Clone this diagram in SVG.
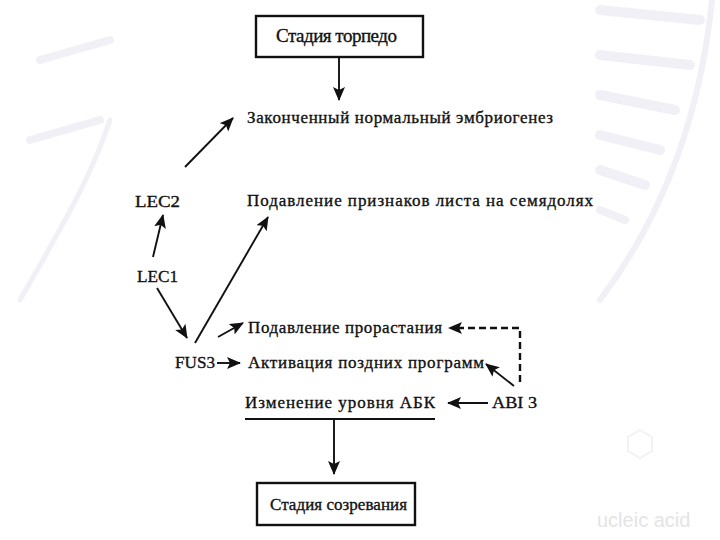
<svg xmlns="http://www.w3.org/2000/svg" width="720" height="540" viewBox="0 0 720 540">
<style>
  .t{font-family:"Liberation Serif","Times New Roman",serif;fill:#111;stroke:#111;stroke-width:0.35;}
  .lbl{font-size:17px;}
  .box{fill:#fff;stroke:#111;stroke-width:2.4;}
  .c{stroke:#111;stroke-width:1.9;fill:none;}
  .d{stroke:#111;stroke-width:2.4;fill:none;stroke-dasharray:7 4;}
  .bg{fill:none;stroke:#f0f0f6;stroke-linecap:round;}
</style>
<defs>
  <marker id="ah" markerUnits="userSpaceOnUse" markerWidth="16" markerHeight="14" refX="13" refY="6" orient="auto">
    <path d="M0,0 L14,6 L0,12 L3,6 Z" fill="#111"/>
  </marker>
</defs>
<rect x="0" y="0" width="720" height="540" fill="#fff"/>
<g id="background">
  <path class="bg" d="M712,0 C700,120 660,220 600,300" stroke-width="6"/>
  <path class="bg" d="M700,20 L600,10" stroke-width="10"/>
  <path class="bg" d="M690,65 L600,55" stroke-width="10"/>
  <path class="bg" d="M675,110 L600,95" stroke-width="10"/>
  <path class="bg" d="M660,150 L600,135" stroke-width="10"/>
  <path class="bg" d="M645,185 L600,170" stroke-width="10"/>
  <path class="bg" d="M625,220 L600,210" stroke-width="8"/>
  <path class="bg" d="M20,300 C60,230 90,180 110,120" stroke-width="5" stroke="#f7f7f8"/>
  <path class="bg" d="M40,60 L110,40" stroke-width="8" stroke="#f8f8f9"/>
  <path class="bg" d="M30,140 L100,120" stroke-width="8" stroke="#f8f8f9"/>
  <polygon points="640,430 652,437 652,451 640,458 628,451 628,437" fill="none" stroke="#f2f2f2" stroke-width="2"/>
  <text x="597" y="527" font-family="Liberation Sans,Arial,sans-serif" font-size="20" fill="#e4e4e4">ucleic acid</text>
</g>
<g id="connectors">
  <line class="c" x1="339" y1="57" x2="339" y2="100" marker-end="url(#ah)"/>
  <line class="c" x1="185" y1="167" x2="233" y2="118" marker-end="url(#ah)"/>
  <line class="c" x1="153" y1="257" x2="163" y2="215" marker-end="url(#ah)"/>
  <line class="c" x1="157" y1="288" x2="187" y2="338" marker-end="url(#ah)"/>
  <line class="c" x1="195" y1="343" x2="268" y2="217" marker-end="url(#ah)"/>
  <line class="c" x1="218" y1="337" x2="243" y2="323" marker-end="url(#ah)"/>
  <line class="c" x1="217" y1="363" x2="240" y2="363" marker-end="url(#ah)"/>
  <path class="d" d="M520,382 L520,328 L452,328"/>
  <path d="M448,328 L462,322 L459,328 L462,334 Z" fill="#111"/>
  <line class="c" x1="514" y1="386" x2="486" y2="364" marker-end="url(#ah)"/>
  <line class="c" x1="488" y1="403" x2="448" y2="403" marker-end="url(#ah)"/>
  <line class="c" x1="334" y1="419" x2="334" y2="474" marker-end="url(#ah)"/>
</g>
<g id="n-torpedo">
  <rect class="box" x="256" y="16" width="167" height="41"/>
  <text class="t" x="276" y="42" font-size="19" textLength="121" lengthAdjust="spacing">Стадия торпедо</text>
</g>
<g id="n-embryo">
  <text class="t lbl" x="247" y="123" textLength="306" lengthAdjust="spacing">Законченный нормальный эмбриогенез</text>
</g>
<g id="n-leaf">
  <text class="t lbl" x="247" y="206" textLength="346" lengthAdjust="spacing">Подавление признаков листа на семядолях</text>
</g>
<g id="n-lec2">
  <text class="t lbl" x="135" y="207" textLength="45" lengthAdjust="spacingAndGlyphs">LEC2</text>
</g>
<g id="n-lec1">
  <text class="t lbl" x="137" y="282" textLength="41" lengthAdjust="spacingAndGlyphs">LEC1</text>
</g>
<g id="n-fus3">
  <text class="t lbl" x="175" y="368" textLength="40" lengthAdjust="spacingAndGlyphs">FUS3</text>
</g>
<g id="n-germ">
  <text class="t lbl" x="248" y="333" textLength="194" lengthAdjust="spacing">Подавление прорастания</text>
</g>
<g id="n-late">
  <text class="t lbl" x="248" y="368" textLength="236" lengthAdjust="spacing">Активация поздних программ</text>
</g>
<g id="n-aba">
  <text class="t lbl" x="245" y="408" textLength="190" lengthAdjust="spacing">Изменение уровня АБК</text>
  <line x1="245" y1="419" x2="435" y2="419" stroke="#111" stroke-width="1.9"/>
</g>
<g id="n-abi3">
  <text class="t lbl" x="492" y="408" textLength="45" lengthAdjust="spacingAndGlyphs">ABI 3</text>
</g>
<g id="n-mature">
  <rect class="box" x="257" y="483" width="158" height="42"/>
  <text class="t" x="270" y="510" font-size="17" textLength="137" lengthAdjust="spacing">Стадия созревания</text>
</g>
</svg>
